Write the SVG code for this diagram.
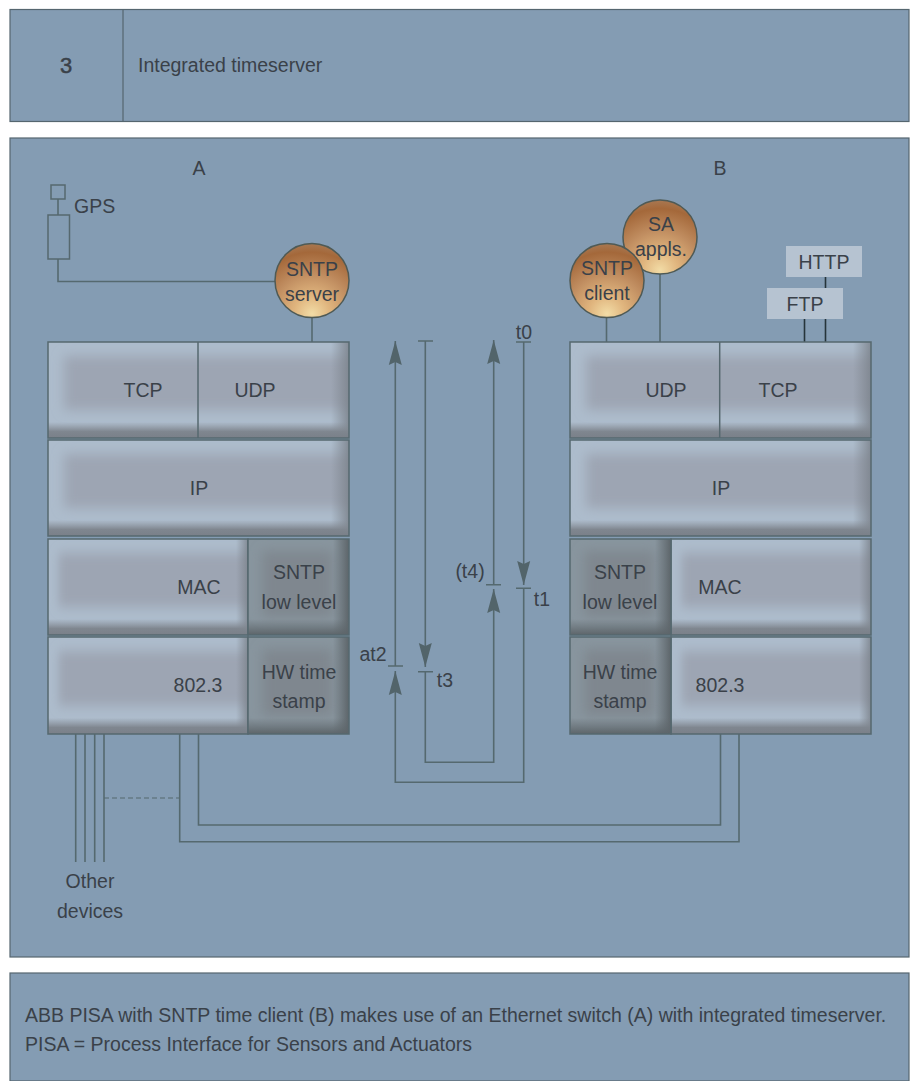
<svg xmlns="http://www.w3.org/2000/svg" xmlns:xlink="http://www.w3.org/1999/xlink" width="911" height="1081" viewBox="0 0 911 1081">
<style>
text{font-family:"Liberation Sans",Arial,sans-serif;font-size:19.500px;fill:#3a4149;text-anchor:middle}
.s{text-anchor:start}
.panel{fill:#849cb3;stroke:#55666f;stroke-width:1.2}
.ln{fill:none;stroke:#55696f;stroke-width:1.6}
.bd{fill:none;stroke:#56686f;stroke-width:1.5}
.blk{fill:none;stroke:#26343a;stroke-width:1.6}
.ball{fill:url(#ball);stroke:#4f5a55;stroke-width:1.5}
.tag{fill:#b6c3d1}
</style>
<defs>
<radialGradient id="ball" cx="0.5" cy="0.95" r="0.98" fx="0.5" fy="0.95">
<stop offset="0" stop-color="#f2dca6"/><stop offset="0.25" stop-color="#e0b57e"/><stop offset="0.55" stop-color="#c08d60"/><stop offset="0.85" stop-color="#a4683a"/><stop offset="1" stop-color="#a97c58"/>
</radialGradient>
<filter id="b6" x="-20%" y="-30%" width="140%" height="160%"><feGaussianBlur stdDeviation="6"/></filter>
<linearGradient id="lb" x1="0" y1="0" x2="0" y2="1"><stop offset="0" stop-color="#868c95" stop-opacity="0"/><stop offset="0.6" stop-color="#7f868f"/><stop offset="1" stop-color="#7a8089"/></linearGradient>
<linearGradient id="lr" x1="0" y1="0" x2="1" y2="0"><stop offset="0" stop-color="#7f868f" stop-opacity="0"/><stop offset="1" stop-color="#7b828b" stop-opacity="0.85"/></linearGradient>
<linearGradient id="db" x1="0" y1="0" x2="0" y2="1"><stop offset="0" stop-color="#5f676c" stop-opacity="0"/><stop offset="1" stop-color="#5d656a"/></linearGradient>
<linearGradient id="dr" x1="0" y1="0" x2="1" y2="0"><stop offset="0" stop-color="#5f676c" stop-opacity="0"/><stop offset="1" stop-color="#5d656a"/></linearGradient>
<symbol id="light" viewBox="0 0 300 96" preserveAspectRatio="none">
<rect width="300" height="96" fill="#adbccc"/>
<rect x="16" y="14" width="290" height="54" fill="#9da5b3" filter="url(#b6)"/>
<rect x="282" y="0" width="18" height="96" fill="url(#lr)"/>
<rect x="0" y="80" width="300" height="16" fill="url(#lb)"/>
</symbol>
<symbol id="dark" viewBox="0 0 100 96" preserveAspectRatio="none">
<rect width="100" height="96" fill="#88959e"/>
<rect x="14" y="12" width="70" height="66" fill="#7f878f" filter="url(#b6)"/>
<rect x="84" y="0" width="16" height="96" fill="url(#dr)"/>
<rect x="0" y="80" width="100" height="16" fill="url(#db)"/>
</symbol>
<marker id="arr" markerUnits="userSpaceOnUse" markerWidth="26" markerHeight="16" refX="24" refY="8" orient="auto"><path d="M24,8 L0,1.500 L3,8 L0,14.500 Z" fill="#52646a"/></marker>
</defs>
<rect width="911" height="1081" fill="#fff"/>

<g id="header">
<rect class="panel" x="10" y="9.500" width="899" height="112"/>
<path d="M123,9.500V121.500" stroke="#55666f" stroke-width="1.2"/>
<text x="66" y="73" style="font-size:22px;stroke:#3a4149;stroke-width:0.5">3</text>
<text class="s" x="138" y="72">Integrated timeserver</text>
</g>
<g id="main-panel">
<rect class="panel" x="10" y="138" width="899" height="819"/>
<text x="199" y="175">A</text>
<text x="720" y="175">B</text>
</g>
<g id="caption">
<rect class="panel" x="10" y="973" width="899" height="108"/>
<text class="s" x="25" y="1022">ABB PISA with SNTP time client (B) makes use of an Ethernet switch (A) with integrated timeserver.</text>
<text class="s" x="25" y="1051">PISA = Process Interface for Sensors and Actuators</text>
</g>

<g id="connectors">
<path class="ln" d="M58,199V215M58,259V281.500H275"/>
<path class="ln" d="M312,318V342"/>
<path class="ln" d="M606.500,318V342M660,274V342"/>
<path class="blk" d="M825.500,277V288M825.500,319V342M804.500,319V342"/>
<path class="ln" d="M75.700,734V862M85,734V862M94.700,734V862M104,734V862"/>
<path class="ln" d="M104,798H180" stroke-dasharray="5 3" style="stroke-width:1.200"/>
<path class="ln" d="M179.700,734V841.700H739V734"/>
<path class="ln" d="M198.500,734V825H720.500V734"/>
<path class="ln" marker-end="url(#arr)" d="M523.700,589V782.300H395.300V671"/>
<path class="ln" marker-end="url(#arr)" d="M395.300,666V341"/>
<path class="ln" marker-end="url(#arr)" d="M523.700,342V585"/>
<path class="ln" marker-end="url(#arr)" d="M425.300,341V667"/>
<path class="ln" marker-end="url(#arr)" d="M425.300,672V762.300H493.700V589"/>
<path class="ln" marker-end="url(#arr)" d="M493.700,585V340"/>
<path class="ln" d="M388,666H403M418,341H433M418,671.700H433M486,584.700H501M516,342H531M516,588.300H531"/>
</g>

<g id="gps">
<rect class="bd" x="51" y="185" width="14" height="14"/>
<rect class="bd" x="48" y="215" width="21.500" height="44"/>
<text class="s" x="74" y="213">GPS</text>
</g>

<g id="sntp-server">
<circle class="ball" cx="312" cy="280.500" r="37"/>
<text x="312" y="276">SNTP</text><text x="312" y="301">server</text>
</g>
<g id="sa-appls">
<circle class="ball" cx="660" cy="237" r="37"/>
<text x="661" y="231">SA</text><text x="661" y="256">appls.</text>
</g>
<g id="sntp-client">
<circle class="ball" cx="607" cy="280.500" r="37"/>
<text x="607" y="275">SNTP</text><text x="607" y="300">client</text>
</g>
<g id="http"><rect class="tag" x="786" y="246" width="76" height="31"/><text x="824" y="269">HTTP</text></g>
<g id="ftp"><rect class="tag" x="767" y="288" width="76" height="31"/><text x="805" y="311">FTP</text></g>

<g id="a-tcp-udp">
<use xlink:href="#light" href="#light" x="48" y="342" width="301" height="96"/>
<rect class="bd" x="48" y="342" width="301" height="96"/>
<path class="bd" d="M198,342V438"/>
<text x="143" y="397">TCP</text><text x="255" y="397">UDP</text>
</g>
<g id="a-ip">
<use xlink:href="#light" href="#light" x="48" y="440" width="301" height="96"/>
<rect class="bd" x="48" y="440" width="301" height="96"/>
<text x="199" y="495">IP</text>
</g>
<g id="a-mac">
<use xlink:href="#light" href="#light" x="48" y="539" width="200" height="96"/>
<rect class="bd" x="48" y="539" width="200" height="96"/>
<text x="199" y="594">MAC</text>
</g>
<g id="a-sntp-low">
<use xlink:href="#dark" href="#dark" x="248" y="539" width="101" height="96"/>
<rect class="bd" x="248" y="539" width="101" height="96"/>
<text x="299" y="579">SNTP</text><text x="299" y="609">low level</text>
</g>
<g id="a-802">
<use xlink:href="#light" href="#light" x="48" y="637" width="200" height="97"/>
<rect class="bd" x="48" y="637" width="200" height="97"/>
<text x="198" y="692">802.3</text>
</g>
<g id="a-hw">
<use xlink:href="#dark" href="#dark" x="248" y="637" width="101" height="97"/>
<rect class="bd" x="248" y="637" width="101" height="97"/>
<text x="299" y="679">HW time</text><text x="299" y="708">stamp</text>
</g>

<g id="b-udp-tcp">
<use xlink:href="#light" href="#light" x="570" y="342" width="301" height="96"/>
<rect class="bd" x="570" y="342" width="301" height="96"/>
<path class="bd" d="M719.700,342V438"/>
<text x="666" y="397">UDP</text><text x="778" y="397">TCP</text>
</g>
<g id="b-ip">
<use xlink:href="#light" href="#light" x="570" y="440" width="301" height="96"/>
<rect class="bd" x="570" y="440" width="301" height="96"/>
<text x="721" y="495">IP</text>
</g>
<g id="b-mac">
<use xlink:href="#light" href="#light" x="671" y="539" width="200" height="96"/>
<rect class="bd" x="671" y="539" width="200" height="96"/>
<text x="720" y="594">MAC</text>
</g>
<g id="b-sntp-low">
<use xlink:href="#dark" href="#dark" x="570" y="539" width="101" height="96"/>
<rect class="bd" x="570" y="539" width="101" height="96"/>
<text x="620" y="579">SNTP</text><text x="620" y="609">low level</text>
</g>
<g id="b-802">
<use xlink:href="#light" href="#light" x="671" y="637" width="200" height="97"/>
<rect class="bd" x="671" y="637" width="200" height="97"/>
<text x="720" y="692">802.3</text>
</g>
<g id="b-hw">
<use xlink:href="#dark" href="#dark" x="570" y="637" width="101" height="97"/>
<rect class="bd" x="570" y="637" width="101" height="97"/>
<text x="620" y="679">HW time</text><text x="620" y="708">stamp</text>
</g>

<g id="labels">
<text x="524" y="339">t0</text>
<text x="542" y="606">t1</text>
<text x="373" y="661">at2</text>
<text x="445" y="687">t3</text>
<text x="470" y="578">(t4)</text>
<text x="90" y="888">Other</text>
<text x="90" y="918">devices</text>
</g>
</svg>
